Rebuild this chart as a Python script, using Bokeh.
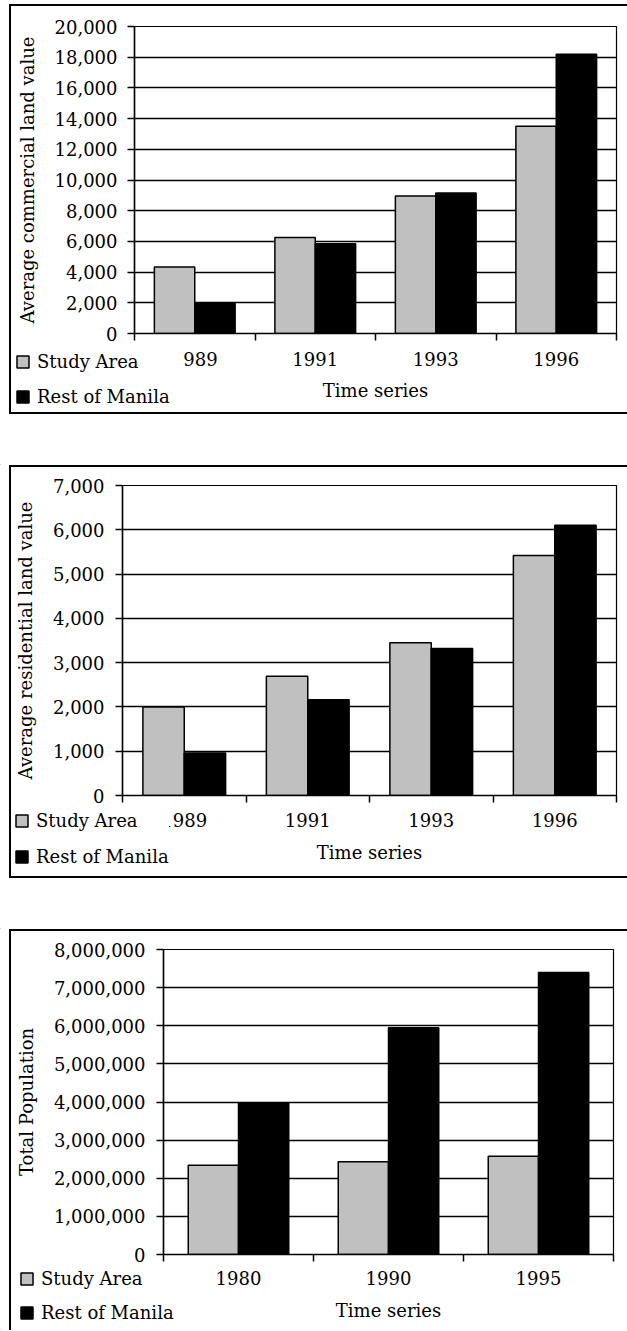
from bokeh.plotting import figure
from bokeh.models import (Range1d, FixedTicker, NumeralTickFormatter, Legend,
                          LegendItem, ColumnDataSource, GridBox)
from bokeh.transform import dodge
from bokeh.embed import file_html
from bokeh.resources import INLINE

FONT = "DejaVu Serif"
FS = "18px"

series_names = ["Study Area", "Rest of Manila"]
series_colors = ["#C0C0C0", "#000000"]

# Panel 1: average commercial land value
years_commercial = ["1989", "1991", "1993", "1996"]
commercial_study = [4340, 6250, 8950, 13500]
commercial_rest = [1950, 5850, 9150, 18200]

# Panel 2: average residential land value
years_residential = ["1989", "1991", "1993", "1996"]
residential_study = [2000, 2690, 3450, 5420]
residential_rest = [960, 2160, 3320, 6100]

# Panel 3: total population
years_population = ["1980", "1990", "1995"]
population_study = [2340000, 2430000, 2580000]
population_rest = [3980000, 5950000, 7400000]

W = 627
BAR_W = 0.335


def border_styles(top_y, bottom_y, height):
    imgs = ["linear-gradient(#000,#000)", "linear-gradient(#000,#000)"]
    end = bottom_y + 2 if bottom_y is not None else height
    pos = ["9px %dpx" % top_y, "9px %dpx" % top_y]
    size = ["2px %dpx" % (end - top_y), "100% 2px"]
    if bottom_y is not None:
        imgs.append("linear-gradient(#000,#000)")
        pos.append("9px %dpx" % bottom_y)
        size.append("100% 2px")
    return {
        "background-image": ",".join(imgs),
        "background-position": ",".join(pos),
        "background-size": ",".join(size),
        "background-repeat": "no-repeat",
        "background-color": "white",
    }


def make_panel(years, study, rest, ymax, ystep, ylabel, height,
               border_top, border_bottom,
               mb_left, mb_right, mb_top, mb_bottom,
               ylabel_standoff, ytick_standoff,
               xlabel_standoff, xaxis_label_standoff):
    n = len(years)
    centers = [i + 0.5 for i in range(n)]
    bounds = [float(i) for i in range(n + 1)]
    src = ColumnDataSource(dict(x=centers, study=study, rest=rest))
    p = figure(width=W, height=height, x_range=Range1d(0, n),
               y_range=Range1d(0, ymax), output_backend="svg",
               toolbar_location=None, min_border_left=mb_left,
               min_border_right=mb_right, min_border_top=mb_top,
               min_border_bottom=mb_bottom, frame_align=False,
               styles=border_styles(border_top, border_bottom, height))
    p.background_fill_color = "white"
    p.border_fill_color = None
    p.outline_line_color = "black"
    p.outline_line_width = 1.2

    p.vbar(x=dodge("x", -BAR_W / 2), top="study", width=BAR_W,
           source=src, fill_color=series_colors[0], line_color="black",
           line_width=1.5)
    p.vbar(x=dodge("x", BAR_W / 2), top="rest", width=BAR_W,
           source=src, fill_color=series_colors[1], line_color="black",
           line_width=1.5)

    p.xgrid.visible = False
    p.ygrid.grid_line_color = "black"
    p.ygrid.grid_line_width = 1.3
    p.ygrid.grid_line_alpha = 1.0

    yax = p.yaxis[0]
    yax.ticker = FixedTicker(ticks=list(range(0, ymax + 1, ystep)))
    yax.formatter = NumeralTickFormatter(format="0,0")
    yax.axis_label = ylabel
    yax.axis_label_text_font = FONT
    yax.axis_label_text_font_size = FS
    yax.axis_label_text_font_style = "normal"
    yax.axis_label_text_color = "black"
    yax.axis_label_standoff = ylabel_standoff
    yax.major_label_text_font = FONT
    yax.major_label_text_font_size = FS
    yax.major_label_text_color = "black"
    yax.major_label_standoff = ytick_standoff
    yax.major_tick_out = 7
    yax.major_tick_in = 0
    yax.major_tick_line_width = 1.5
    yax.minor_tick_line_color = None
    yax.axis_line_width = 1.5
    yax.axis_line_color = "black"

    xax = p.xaxis[0]
    xax.ticker = FixedTicker(ticks=centers, minor_ticks=bounds)
    xax.major_label_overrides = {c: y for c, y in zip(centers, years)}
    xax.major_tick_line_color = None
    xax.major_tick_out = 0
    xax.major_tick_in = 0
    xax.minor_tick_out = 7
    xax.minor_tick_in = 0
    xax.minor_tick_line_width = 1.5
    xax.minor_tick_line_color = "black"
    xax.axis_line_width = 1.5
    xax.axis_line_color = "black"
    xax.major_label_text_font = FONT
    xax.major_label_text_font_size = FS
    xax.major_label_text_color = "black"
    xax.major_label_standoff = xlabel_standoff
    xax.axis_label = "Time series"
    xax.axis_label_text_font = FONT
    xax.axis_label_text_font_size = FS
    xax.axis_label_text_font_style = "normal"
    xax.axis_label_text_color = "black"
    xax.axis_label_standoff = xaxis_label_standoff
    return p


def make_legend_layer(height, loc, spacing, label_width):
    # transparent overlay whose frame covers the whole panel, holding the legend
    lp = figure(width=W, height=height, x_range=Range1d(0, 1),
                y_range=Range1d(0, 1), output_backend="svg",
                toolbar_location=None, min_border=0, min_border_left=0,
                min_border_right=0, min_border_top=0, min_border_bottom=0,
                x_axis_type=None, y_axis_type=None, frame_align=False)
    lp.background_fill_color = None
    lp.border_fill_color = None
    lp.outline_line_color = None
    lp.grid.visible = False
    # key swatches only: one point placed far outside the visible ranges
    dummy = ColumnDataSource(dict(x=[-50.0], top=[-50.0], bottom=[-51.0]))
    r1 = lp.vbar(x="x", top="top", bottom="bottom", width=0.1, source=dummy,
                 fill_color=series_colors[0], line_color="black",
                 line_width=1.5)
    r2 = lp.vbar(x="x", top="top", bottom="bottom", width=0.1, source=dummy,
                 fill_color=series_colors[1], line_color="black",
                 line_width=1.5)
    legend = Legend(items=[LegendItem(label=series_names[0], renderers=[r1]),
                           LegendItem(label=series_names[1], renderers=[r2])],
                    location=loc, orientation="vertical",
                    label_text_font=FONT, label_text_font_size=FS,
                    label_text_color="black", label_width=label_width,
                    glyph_width=15, glyph_height=15, spacing=spacing,
                    padding=2, margin=0, label_standoff=7,
                    background_fill_color="white", background_fill_alpha=1.0,
                    border_line_color=None)
    lp.add_layout(legend, "center")
    return lp


H1, H2, H3 = 465, 464, 401

p1 = make_panel(years_commercial, commercial_study, commercial_rest,
                20000, 2000, "Average commercial land value", H1,
                4, 412, 134, 11, 26, H1 - 333, 14, 10, 11, 11)
p2 = make_panel(years_residential, residential_study, residential_rest,
                7000, 1000, "Average residential land value", H2,
                0, 411, 122, 11, 20, H2 - 330, 14, 11, 10, 12)
p3 = make_panel(years_population, population_study, population_rest,
                8000000, 1000000, "Total Population", H3,
                0, None, 163, 14, 20, H3 - 325, 14, 11, 9, 12)

l1 = make_legend_layer(H1, (15, 58), 14, 146)
l2 = make_legend_layer(H2, (14, 62), 15, 132)
l3 = make_legend_layer(H3, (19, 7), 13, 20)

layout = GridBox(children=[(p1, 0, 0), (l1, 0, 0),
                           (p2, 1, 0), (l2, 1, 0),
                           (p3, 2, 0), (l3, 2, 0)], spacing=0)

open("out.html", "w").write(file_html(layout, INLINE))
